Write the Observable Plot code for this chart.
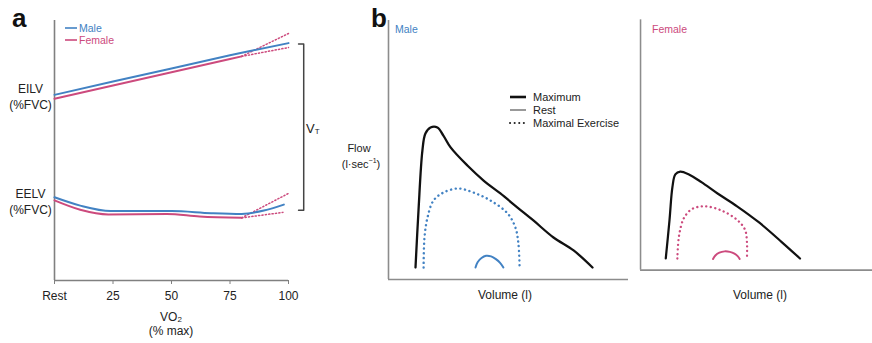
<!DOCTYPE html>
<html><head><meta charset="utf-8">
<script src="https://cdn.jsdelivr.net/npm/d3@7"></script>
<script src="https://cdn.jsdelivr.net/npm/@observablehq/plot@0.6"></script>
<style>
html,body{margin:0;padding:0;background:#fff;overflow:hidden;}
#root{position:relative;width:872px;height:343px;overflow:hidden;font-family:"Liberation Sans",Arial,sans-serif;}
.panel{position:absolute;top:0;}
#overlay{position:absolute;left:0;top:0;}
</style></head><body><div id="root"></div>
<script>
// ---------- Panel a data (VO2 % max vs %FVC) ----------
const vo2Ticks = [0, 25, 50, 75, 100];
const vo2TickLabels = ["Rest", "25", "50", "75", "100"];
const yTickValues = [71, 30.5];
const yTickLabels = ["EILV\n(%FVC)", "EELV\n(%FVC)"];

const maleEILV_x = [0, 25, 50, 75, 80, 100];
const maleEILV_y = [71.4, 76.5, 81.5, 86.6, 87.6, 91.3];
const femaleEILV_x = [0, 25, 50, 75, 80];
const femaleEILV_y = [69.9, 75.0, 80.1, 85.2, 86.2];
const femaleEILVHigh_x = [80, 100];
const femaleEILVHigh_y = [86.2, 95.0];
const femaleEILVLow_x = [80, 100];
const femaleEILVLow_y = [86.2, 89.6];

const maleEELV_x = [0, 11, 24, 50, 67, 80, 89.5, 98];
const maleEELV_y = [32.0, 28.8, 26.7, 26.7, 25.9, 25.6, 26.9, 29.2];
const femaleEELV_x = [0, 11, 23, 48, 62, 80];
const femaleEELV_y = [30.8, 27.2, 25.4, 25.6, 24.6, 24.1];
const femaleEELVHigh_x = [80, 100];
const femaleEELVHigh_y = [24.1, 33.5];
const femaleEELVLow_x = [80, 97.6];
const femaleEELVLow_y = [24.1, 26.2];

// tidal-volume bracket (VT)
const bracket_x = [104.3, 106.5, 106.5, 104.3];
const bracket_y = [91, 91, 27, 27];

// ---------- Panel b data (volume l, flow l/s) ----------
const maleMax_v = [0.90, 1.00, 1.13, 1.23, 1.40, 1.63, 1.83, 2.07, 2.63, 3.17, 3.73, 4.30, 4.83, 5.50, 6.17, 6.80];
const maleMax_f = [0.65, 3.73, 6.97, 7.89, 8.22, 8.22, 7.78, 7.14, 6.16, 5.35, 4.65, 3.89, 3.19, 2.27, 1.57, 0.65];
const maleEx_v = [1.17, 1.20, 1.30, 1.50, 1.83, 2.33, 2.83, 3.40, 3.97, 4.23, 4.33, 4.37];
const maleEx_f = [0.65, 2.27, 3.35, 4.27, 4.70, 4.92, 4.70, 4.27, 3.57, 2.81, 1.95, 0.65];
const maleRest_v = [2.90, 2.97, 3.10, 3.25, 3.42, 3.58, 3.72, 3.83];
const maleRest_f = [0.65, 0.93, 1.16, 1.28, 1.25, 1.10, 0.90, 0.65];

const femaleMax_v = [0.87, 1.00, 1.10, 1.20, 1.37, 1.67, 2.10, 2.67, 3.33, 4.10, 4.87, 5.50];
const femaleMax_f = [0.65, 2.81, 4.65, 5.35, 5.51, 5.35, 4.92, 4.27, 3.57, 2.65, 1.57, 0.65];
const femaleEx_v = [1.27, 1.33, 1.50, 1.77, 2.20, 2.77, 3.33, 3.60, 3.67, 3.67];
const femaleEx_f = [0.65, 1.95, 2.92, 3.41, 3.57, 3.35, 2.81, 2.27, 1.57, 0.65];
const femaleRest_v = [2.50, 2.58, 2.72, 2.90, 3.08, 3.24, 3.35, 3.42];
const femaleRest_f = [0.62, 0.82, 0.98, 1.05, 1.02, 0.92, 0.78, 0.62];

const MALE = "#4282c3", FEMALE = "#cc4a7d", AXIS = "#808080";
const zip = (xs, ys) => xs.map((x, i) => ({x, y: ys[i]}));
const font = '"Liberation Sans", Arial, sans-serif';

const root = document.getElementById("root");
function place(svg, left) {
  const d = document.createElement("div");
  d.className = "panel"; d.style.left = left + "px";
  d.appendChild(svg); root.appendChild(d);
}

// ---------- Panel a ----------
const pa = Plot.plot({
  width: 330, height: 343,
  marginLeft: 54, marginRight: 42, marginTop: 20, marginBottom: 63,
  x: {domain: [0, 100]}, y: {domain: [0, 100]},
  style: {fontFamily: font, fontSize: "12px", color: "#222", background: "transparent"},
  marks: [
    Plot.axisX({ticks: vo2Ticks, tickFormat: d => vo2TickLabels[vo2Ticks.indexOf(d)], tickSize: 4, tickPadding: 7, stroke: AXIS, fill: "#222", label: null, fontSize: 12}),
    Plot.axisY({ticks: yTickValues, tickFormat: d => yTickLabels[yTickValues.indexOf(d)], tickSize: 0, tickPadding: 24, textAnchor: "middle", lineHeight: 1.3, label: null, fill: "#222", fontSize: 12}),
    Plot.ruleX([0], {stroke: AXIS, strokeWidth: 1.6}),
    Plot.ruleY([0], {stroke: AXIS, strokeWidth: 1.6}),
    Plot.line(zip(femaleEILVHigh_x, femaleEILVHigh_y), {x: "x", y: "y", stroke: FEMALE, strokeWidth: 1.5, strokeDasharray: "1.2,2.2"}),
    Plot.line(zip(femaleEILVLow_x, femaleEILVLow_y), {x: "x", y: "y", stroke: FEMALE, strokeWidth: 1.5, strokeDasharray: "1.2,2.2"}),
    Plot.line(zip(femaleEELVHigh_x, femaleEELVHigh_y), {x: "x", y: "y", stroke: FEMALE, strokeWidth: 1.5, strokeDasharray: "1.2,2.2"}),
    Plot.line(zip(femaleEELVLow_x, femaleEELVLow_y), {x: "x", y: "y", stroke: FEMALE, strokeWidth: 1.5, strokeDasharray: "1.2,2.2"}),
    Plot.line(zip(femaleEILV_x, femaleEILV_y), {x: "x", y: "y", stroke: FEMALE, strokeWidth: 2}),
    Plot.line(zip(femaleEELV_x, femaleEELV_y), {x: "x", y: "y", stroke: FEMALE, strokeWidth: 2, curve: "monotone-x"}),
    Plot.line(zip(maleEILV_x, maleEILV_y), {x: "x", y: "y", stroke: MALE, strokeWidth: 2}),
    Plot.line(zip(maleEELV_x, maleEELV_y), {x: "x", y: "y", stroke: MALE, strokeWidth: 2, curve: "monotone-x"}),
    Plot.line(zip(bracket_x, bracket_y), {x: "x", y: "y", stroke: "#444", strokeWidth: 1.5, clip: false})
  ]
});
place(pa, 0);

// ---------- Panel b ----------
function flowPanel(w, mr, maxC, exC, restC, color) {
  return Plot.plot({
    width: w, height: 343,
    marginLeft: 58, marginRight: mr, marginTop: 20, marginBottom: 64,
    x: {domain: [0, 8], axis: null}, y: {domain: [0, 14], axis: null},
    style: {background: "transparent"},
    marks: [
      Plot.ruleX([0], {stroke: "#8c8c8c", strokeWidth: 1.6}),
      Plot.ruleY([0], {stroke: "#8c8c8c", strokeWidth: 1.6}),
      Plot.line(maxC, {x: "x", y: "y", stroke: "#111", strokeWidth: 2.3, curve: "catmull-rom"}),
      Plot.line(exC, {x: "x", y: "y", stroke: color, strokeWidth: 2.4, strokeLinecap: "round", strokeDasharray: "0.1,4.6", curve: "catmull-rom"}),
      Plot.line(restC, {x: "x", y: "y", stroke: color, strokeWidth: 2, curve: "catmull-rom"})
    ]
  });
}
place(flowPanel(300, 2, zip(maleMax_v, maleMax_f), zip(maleEx_v, maleEx_f), zip(maleRest_v, maleRest_f), MALE), 330);
place(flowPanel(298, 0, zip(femaleMax_v, femaleMax_f), zip(femaleEx_v, femaleEx_f), zip(femaleRest_v, femaleRest_f), FEMALE), 584);

// ---------- Text annotations / legends ----------
const ns = "http://www.w3.org/2000/svg";
const ov = document.createElementNS(ns, "svg");
ov.setAttribute("id", "overlay"); ov.setAttribute("width", 872); ov.setAttribute("height", 343);
ov.style.fontFamily = font;
function txt(x, y, s, o = {}) {
  const t = document.createElementNS(ns, "text");
  t.setAttribute("x", x); t.setAttribute("y", y);
  t.setAttribute("font-size", o.size || 12);
  t.setAttribute("fill", o.fill || "#222");
  t.setAttribute("text-anchor", o.anchor || "start");
  if (o.weight) t.setAttribute("font-weight", o.weight);
  if (o.baseline !== false) t.setAttribute("dominant-baseline", "central");
  if (Array.isArray(s)) { s.forEach(p => { const sp = document.createElementNS(ns, "tspan"); sp.textContent = p.t; if (p.size) sp.setAttribute("font-size", p.size); if (p.dy) sp.setAttribute("dy", p.dy); t.appendChild(sp); }); }
  else t.textContent = s;
  ov.appendChild(t);
}
function seg(x1, y1, x2, y2, stroke, w, dash) {
  const l = document.createElementNS(ns, "line");
  l.setAttribute("x1", x1); l.setAttribute("y1", y1); l.setAttribute("x2", x2); l.setAttribute("y2", y2);
  l.setAttribute("stroke", stroke); l.setAttribute("stroke-width", w);
  if (dash) { l.setAttribute("stroke-dasharray", dash); l.setAttribute("stroke-linecap", "round"); }
  ov.appendChild(l);
}
// panel letters
txt(12, 27, "a", {size: 26, weight: "bold", fill: "#111", baseline: false});
txt(371, 27, "b", {size: 26, weight: "bold", fill: "#111", baseline: false});
// panel a legend
seg(65, 28, 77, 28, MALE, 1.6); txt(79, 28, "Male", {size: 10.5, fill: MALE});
seg(65, 40, 77, 40, FEMALE, 1.6); txt(79, 40, "Female", {size: 10.5, fill: FEMALE});
// panel a x label
txt(171, 317, [{t: "VO"}, {t: "2", size: 8, dy: 2}], {anchor: "middle"});
txt(171, 331, "(% max)", {anchor: "middle"});
// VT
txt(306, 128, [{t: "V", size: 13}, {t: "T", size: 8, dy: 3}], {});
// panel b
txt(395, 29, "Male", {size: 10.5, fill: MALE});
txt(652, 29, "Female", {size: 10.5, fill: FEMALE});
txt(359, 148, "Flow", {size: 11, anchor: "middle"});
txt(361, 164, [{t: "(l·sec"}, {t: "−1", size: 7, dy: -4}, {t: ")", dy: 4}], {size: 11, anchor: "middle"});
txt(505, 295, "Volume (l)", {size: 12, anchor: "middle"});
txt(760, 295, "Volume (l)", {size: 12, anchor: "middle"});
// panel b legend
seg(510, 97, 526, 97, "#111", 2.6); txt(533, 97, "Maximum", {size: 11});
seg(510, 110, 526, 110, "#999", 2); txt(533, 110, "Rest", {size: 11});
seg(510, 123, 526, 123, "#222", 2, "0.1,4.5"); txt(533, 123, "Maximal Exercise", {size: 11});
root.appendChild(ov);
</script></body></html>
